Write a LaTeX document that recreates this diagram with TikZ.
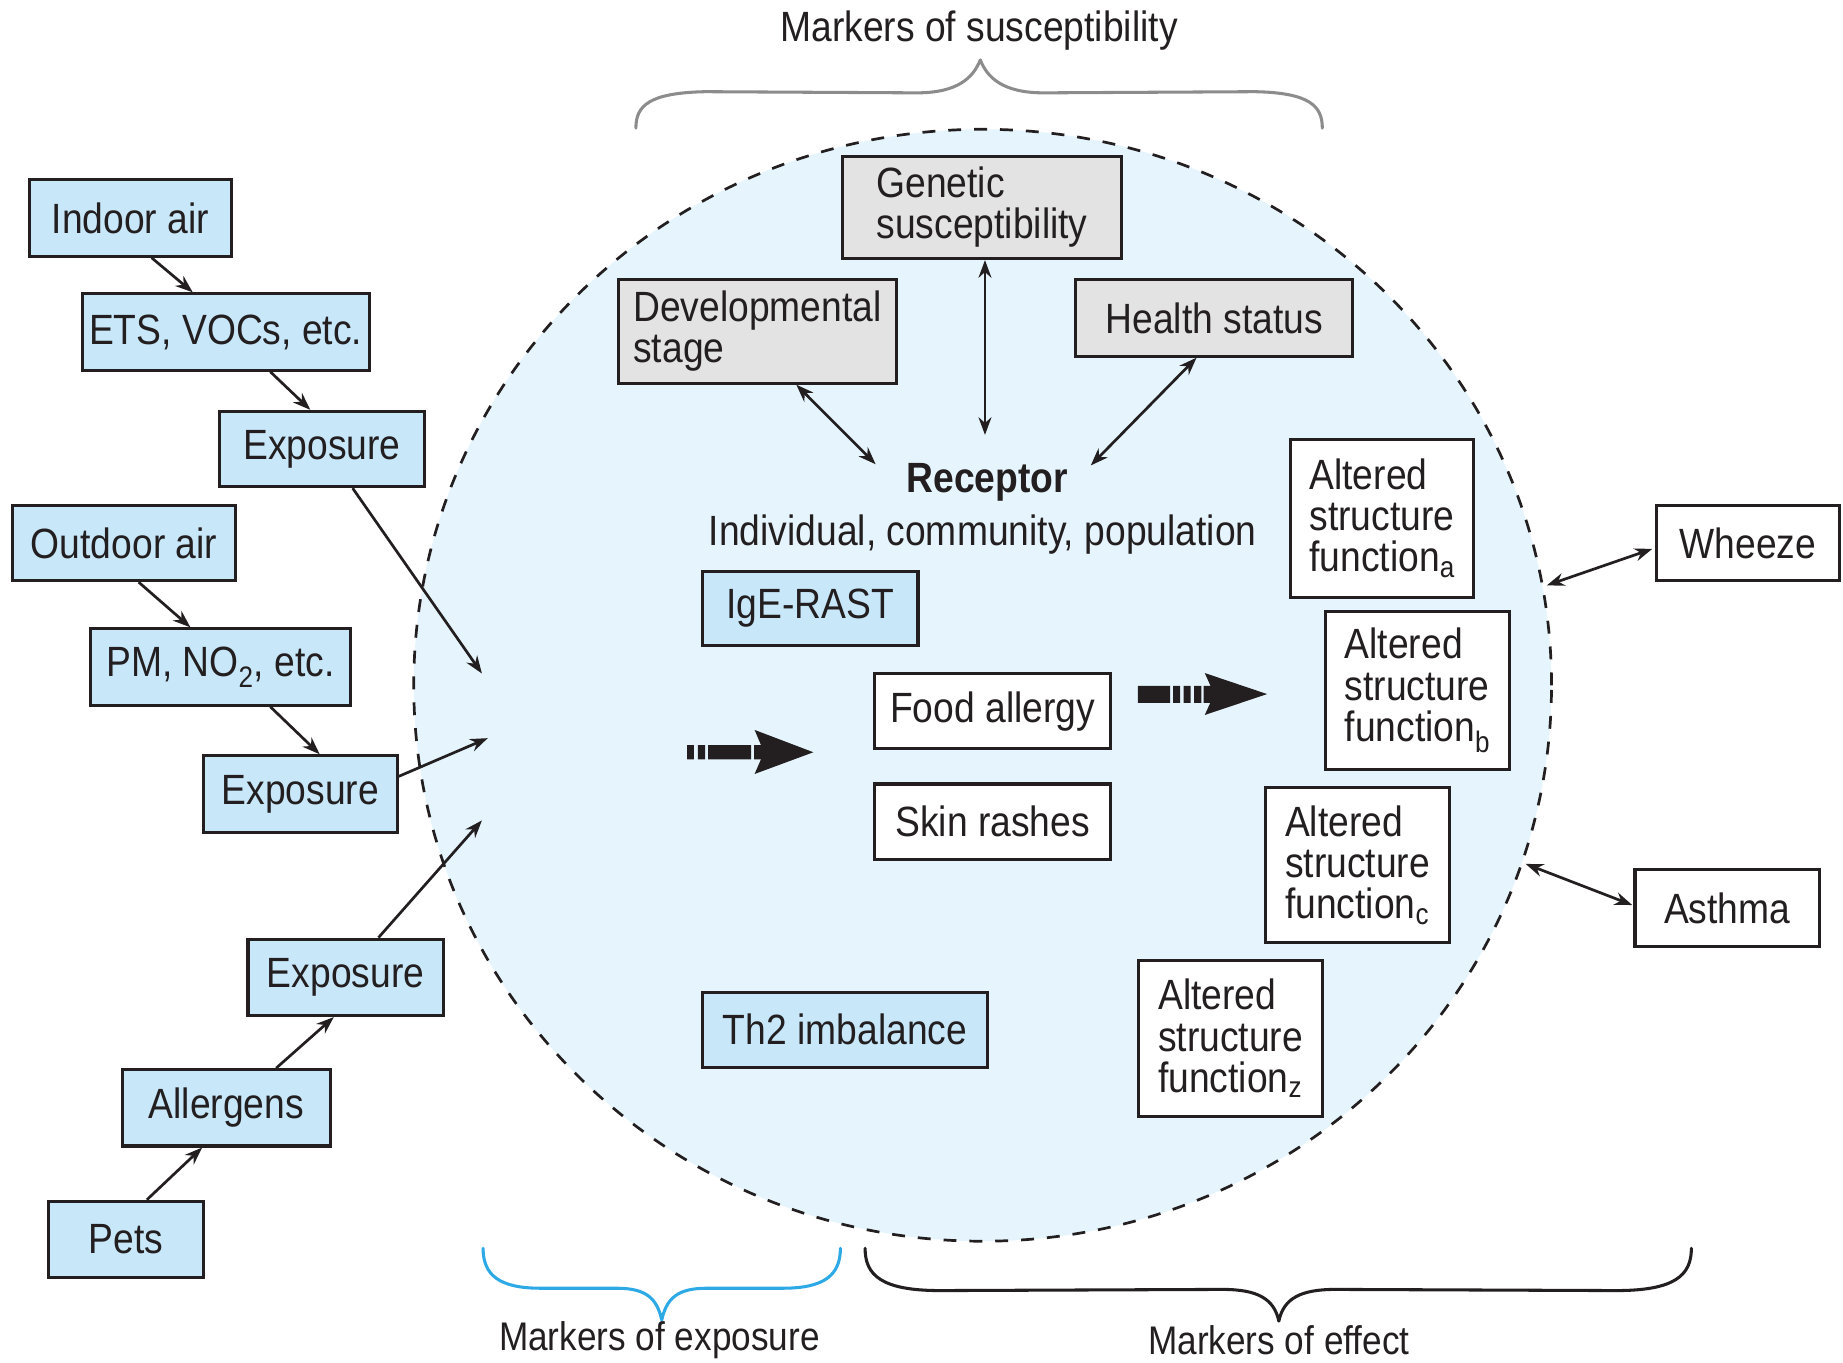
\documentclass[tikz,border=0pt]{standalone}
\usepackage{fontspec}
\setmainfont{Liberation Sans}[FakeStretch=0.88]
\usetikzlibrary{arrows.meta,calc}
\definecolor{boxblue}{RGB}{200,232,250}
\definecolor{circblue}{RGB}{230,245,253}
\definecolor{boxgray}{RGB}{227,227,227}
\definecolor{braceblue}{RGB}{45,170,230}
\definecolor{bracegray}{RGB}{140,140,140}
\definecolor{ink}{RGB}{35,31,32}
\tikzset{
 base/.style={draw=ink, line width=2.6pt, align=left, inner sep=0pt, font=\fontsize{36}{35}\selectfont, text=ink},
 bluebox/.style={base, fill=boxblue},
 graybox/.style={base, fill=boxgray},
 whitebox/.style={base, fill=white},
 conn/.style={draw=ink, line width=2.3pt, -{Stealth[length=15pt,width=11pt]}},
 biconn/.style={draw=ink, line width=2.3pt, {Stealth[length=15pt,width=11pt]}-{Stealth[length=15pt,width=11pt]}},
 txt/.style={font=\fontsize{36}{35}\selectfont, text=ink, inner sep=0pt},
 smalltxt/.style={font=\fontsize{34}{34}\selectfont, text=ink, inner sep=0pt},
 bracepath/.style={line width=2.6pt, line cap=round, line join=round},
}
\begin{document}
\begin{tikzpicture}[x=1pt,y=-1pt]
\useasboundingbox (0,0) rectangle (1568,1159);
% big circle
\draw[fill=circblue, draw=ink, line width=2.3pt, dash pattern=on 11pt off 11pt] (836,583) ellipse [x radius=484pt, y radius=473pt];

% braces
\draw[bracepath, draw=bracegray] (541,109) .. controls (541,90) and (552,79) .. (600,78) -- (780,79) .. controls (815,79) and (828,66) .. (834,51) .. controls (840,66) and (853,79) .. (888,79) -- (1068,78) .. controls (1114,79) and (1125,90) .. (1125,109);
\draw[bracepath, draw=braceblue] (411,1062) .. controls (411,1085) and (425,1096) .. (460,1096) -- (525,1096) .. controls (550,1096) and (559,1105) .. (563,1123) .. controls (567,1105) and (576,1096) .. (601,1096) -- (666,1096) .. controls (701,1096) and (715,1085) .. (715,1062);
\draw[bracepath, draw=ink] (736,1062) .. controls (736,1085) and (750,1098) .. (800,1098) -- (1040,1097) .. controls (1070,1097) and (1084,1105) .. (1088,1124) .. controls (1092,1105) and (1106,1097) .. (1136,1097) -- (1375,1098) .. controls (1425,1098) and (1439,1085) .. (1439,1062);
\node[txt] (msus) at (833,26) {Markers of susceptibility};
\node[smalltxt] (mexp) at (561,1140) {Markers of exposure};
\node[smalltxt] (meff) at (1088,1140) {Markers of effect};

% left boxes
\node[bluebox, minimum width=172pt, minimum height=65pt] (indoor) at (111,185.5) {Indoor air};
\node[bluebox, minimum width=244pt, minimum height=65pt] (ets) at (192,282.5) {ETS, VOCs, etc.};
\node[bluebox, minimum width=174pt, minimum height=64pt] (exp1) at (274,382) {Exposure};
\node[bluebox, minimum width=189pt, minimum height=64pt] (outdoor) at (105.5,462) {Outdoor air};
\node[bluebox, minimum width=221pt, minimum height=65pt] (pm) at (187.5,567.5) {PM, NO\textsubscript{2}, etc.};
\node[bluebox, minimum width=165pt, minimum height=65pt] (exp2) at (255.5,675.5) {Exposure};
\node[bluebox, minimum width=166pt, minimum height=65pt] (exp3) at (294,831.5) {Exposure};
\node[bluebox, minimum width=177pt, minimum height=65pt] (allergens) at (192.5,942.5) {Allergens};
\node[bluebox, minimum width=132pt, minimum height=65pt] (pets) at (107,1054.5) {Pets};

% susceptibility boxes
\node[graybox, minimum width=237pt, minimum height=87pt] (genetic) at (835.5,176.5) {Genetic\\susceptibility};
\node[graybox, minimum width=237pt, minimum height=88pt] (devel) at (644.5,282) {Developmental\\stage};
\node[graybox, minimum width=236pt, minimum height=65pt] (health) at (1033,270.5) {Health status};

% receptor
\node[txt] (receptor) at (840,410) {\bfseries Receptor};
\node[txt] (individual) at (836,455) {Individual, community, population};

% inner boxes
\node[bluebox, minimum width=183pt, minimum height=63pt] (ige) at (689.5,517.5) {IgE-RAST};
\node[whitebox, minimum width=201pt, minimum height=64pt] (food) at (844.5,605) {Food allergy};
\node[whitebox, minimum width=201pt, minimum height=64pt] (skin) at (844.5,699) {Skin rashes};
\node[bluebox, minimum width=242pt, minimum height=64pt] (th2) at (719,876) {Th2 imbalance};

\node[whitebox, minimum width=156pt, minimum height=134pt] (alta) at (1176,441) {Altered\\structure\\function\textsubscript{a}};
\node[whitebox, minimum width=156pt, minimum height=135pt] (altb) at (1206,587.5) {Altered\\structure\\function\textsubscript{b}};
\node[whitebox, minimum width=156pt, minimum height=132pt] (altc) at (1155,736) {Altered\\structure\\function\textsubscript{c}};
\node[whitebox, minimum width=156pt, minimum height=133pt] (altz) at (1047,883.5) {Altered\\structure\\function\textsubscript{z}};

% outcome boxes
\node[whitebox, minimum width=156pt, minimum height=64pt] (wheeze) at (1487,462) {Wheeze};
\node[whitebox, minimum width=157pt, minimum height=65pt] (asthma) at (1469.5,772.5) {Asthma};

% connector end points
\coordinate (c1) at (410,573);
\coordinate (c2) at (415,628);
\coordinate (c3) at (410,698);
\coordinate (r1) at (745,395);
\coordinate (r2) at (838,370);
\coordinate (r3) at (928,396);
\coordinate (cw) at (1316,498);
\coordinate (ca) at (1298,735);

% left connectors
\draw[conn] ($(indoor.south)+(18,0)$) -- ($(ets.north)+(-28,0)$);
\draw[conn] ($(ets.south)+(38,0)$) -- ($(exp1.north)+(-10,0)$);
\draw[conn] ($(outdoor.south)+(12.5,0)$) -- ($(pm.north)+(-25.5,0)$);
\draw[conn] ($(pm.south)+(42.5,0)$) -- ($(exp2.north)+(16.5,0)$);
\draw[conn] ($(pets.north)+(18,0)$) -- ($(allergens.south)+(-20.5,0)$);
\draw[conn] ($(allergens.north)+(42.5,0)$) -- ($(exp3.south)+(-10,0)$);
\draw[conn] ($(exp1.south)+(26,0)$) -- (c1);
\draw[conn] ($(exp2.east)+(0,-15)$) -- (c2);
\draw[conn] ($(exp3.north)+(28,0)$) -- (c3);

% susceptibility connectors
\draw[biconn] ($(genetic.south)+(2.5,0)$) -- (r2);
\draw[biconn] ($(devel.south)+(33,0)$) -- (r1);
\draw[biconn] ($(health.south)+(-15,0)$) -- (r3);

% outcome connectors
\draw[biconn] ($(wheeze.west)+(-2,5)$) -- (cw);
\draw[biconn] ($(asthma.west)+(-1,-2.5)$) -- (ca);

% fat dashed arrows
\fill[ink] (584.5,634) rectangle (590.4,646) (593.8,634) rectangle (599.8,646) (602.4,634) rectangle (639,646) (641.5,634) rectangle (651,646);
\fill[ink] (642,621) -- (692,640) -- (642,658.5) -- (650,640) -- cycle;
\fill[ink] (968,583.6) rectangle (995.5,598) (998,583.6) rectangle (1004,598) (1007,583.6) rectangle (1013,598) (1016,583.6) rectangle (1022,598) (1024,583.6) rectangle (1036,598);
\fill[ink] (1025,572.6) -- (1078,590.5) -- (1025,608.3) -- (1033,590.5) -- cycle;
\end{tikzpicture}
\end{document}
